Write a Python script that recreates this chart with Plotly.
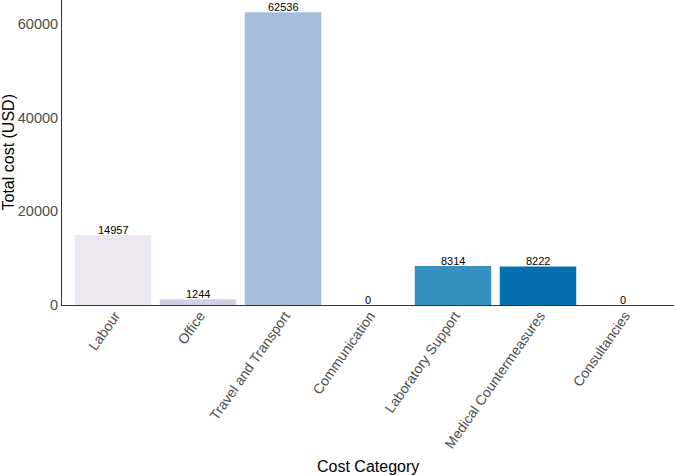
import plotly.graph_objects as go

categories = ["Labour", "Office", "Travel and Transport", "Communication",
              "Laboratory Support", "Medical Countermeasures", "Consultancies"]
costs = [14957, 1244, 62536, 0, 8314, 8222, 0]
colors = ["#ece7f2", "#d0d1e6", "#a6bddb", "#74a9cf", "#3690c0", "#0570b0", "#045a8d"]
y_ticks = [0, 20000, 40000, 60000]

W, H = 674, 475
L, R, T, B = 62, 0, 0, 170
plot_w, plot_h = W - L - R, H - T - B
xs = list(range(len(categories)))

fig = go.Figure(go.Bar(
    x=xs, y=costs,
    marker=dict(color=colors, line=dict(width=0)),
    width=0.9,
))

value_labels = [
    dict(text=str(v), x=xi, y=v, xref="x", yref="y", yanchor="bottom",
         yshift=-3, showarrow=False,
         font=dict(size=11, color="black", family="Liberation Sans"))
    for xi, v in zip(xs, costs)
]

fig.update_layout(
    width=W, height=H,
    margin=dict(l=L, r=R, t=T, b=B),
    plot_bgcolor="white", paper_bgcolor="white",
    font=dict(family="Liberation Sans", color="#4d4d4d"),
    showlegend=False,
    annotations=value_labels + [
        dict(text="Cost Category", x=0.5, xref="paper",
             y=-(466 - (H - B)) / plot_h, yref="paper", yanchor="middle",
             showarrow=False, font=dict(size=16, color="black")),
        dict(text="Total cost (USD)", x=-(L - 8) / plot_w, xref="paper",
             y=0.5, yref="paper", textangle=-90, xanchor="center",
             showarrow=False, font=dict(size=16, color="black")),
    ],
)
fig.update_xaxes(
    tickmode="array", tickvals=xs, ticktext=categories,
    tickangle=-55, range=[-0.6, 6.6], automargin=False,
    showline=True, linecolor="#333333", linewidth=1,
    ticks="", ticklabelstandoff=-4, ticklabelshift=2,
    tickfont=dict(size=14, color="#4d4d4d"),
    showgrid=False, zeroline=False,
)
fig.update_yaxes(
    range=[0, 65125], tickvals=y_ticks, tickformat="d", automargin=False,
    showline=True, linecolor="#333333", linewidth=1,
    ticks="",
    tickfont=dict(size=14.5, color="#4d4d4d"),
    showgrid=False, zeroline=False,
)

fig.write_html("out.html", config={"displayModeBar": False},
               post_script="document.body.style.margin='0';")
